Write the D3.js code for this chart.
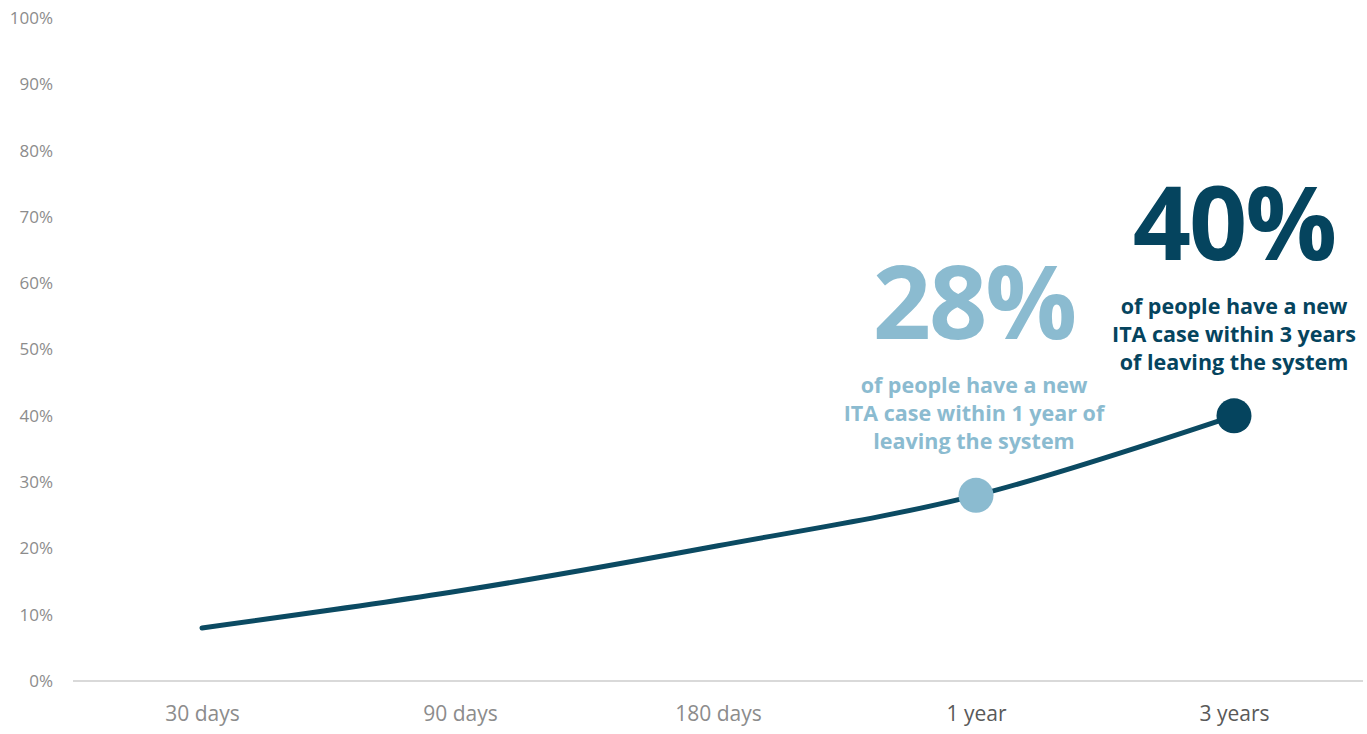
<!DOCTYPE html>
<html>
<head>
<meta charset="utf-8">
<script src="https://cdn.jsdelivr.net/npm/d3@7"></script>
<style>
  html, body { margin: 0; padding: 0; background: #ffffff; }
  svg { display: block; font-family: "Open Sans", "Noto Sans", sans-serif; }
</style>
</head>
<body>
<svg id="chart" width="1367" height="734"></svg>
<script>
// Share of people with a new ITA case, by time since leaving the system
const periods = ["30 days", "90 days", "180 days", "1 year", "3 years"];
const shares = [0.08, 0.136, 0.204, 0.28, 0.40];
const emphasized = ["1 year", "3 years"];
const yTicks = [0, 0.1, 0.2, 0.3, 0.4, 0.5, 0.6, 0.7, 0.8, 0.9, 1.0];

// Call-outs for the highlighted points
const calloutPeriods = ["1 year", "3 years"];
const calloutHeadlines = ["28%", "40%"];
const calloutLines = [
  ["of people have a new", "ITA case within 1 year of", "leaving the system"],
  ["of people have a new", "ITA case within 3 years", "of leaving the system"]
];
const calloutColors = ["#8bbbd0", "#05445e"];

const lineColor = "#0b4a62";
const svg = d3.select("#chart");
const margin = { top: 18, right: 4, bottom: 53, left: 73 };
const width = 1367, height = 734;

const x = d3.scalePoint()
  .domain(periods)
  .range([margin.left, width - margin.right])
  .padding(0.5);

const y = d3.scaleLinear()
  .domain([0, 1])
  .range([height - margin.bottom, margin.top]);

// Y axis: labels only
const yAxis = svg.append("g")
  .attr("transform", `translate(${margin.left - 20},0)`)
  .call(d3.axisLeft(y).tickValues(yTicks).tickFormat(d3.format(".0%")).tickSize(0).tickPadding(0));
yAxis.select(".domain").remove();
yAxis.selectAll("text")
  .attr("fill", "#8c8c8c")
  .attr("font-size", 17)
  .attr("font-family", "'Open Sans', sans-serif");

// X axis baseline and category labels
const xAxis = svg.append("g")
  .attr("transform", `translate(0,${y(0)})`)
  .call(d3.axisBottom(x).tickSize(0).tickPadding(25));
xAxis.select(".domain")
  .attr("stroke", "#d9d9d9")
  .attr("stroke-width", 2)
  .attr("d", `M${margin.left},0H${width - margin.right}`);
xAxis.selectAll("text")
  .attr("font-size", 21)
  .attr("font-family", "'Open Sans', sans-serif")
  .attr("fill", d => emphasized.includes(d) ? "#595959" : "#8c8c8c");

// Trend line
const data = periods.map((p, i) => ({ period: p, value: shares[i] }));
const line = d3.line()
  .x(d => x(d.period))
  .y(d => y(d.value))
  .curve(d3.curveCatmullRom.alpha(0.5));

svg.append("path")
  .datum(data)
  .attr("fill", "none")
  .attr("stroke", lineColor)
  .attr("stroke-width", 5)
  .attr("stroke-linecap", "round")
  .attr("d", line);

// Highlighted points and their call-outs
calloutPeriods.forEach((p, i) => {
  const d = data.find(e => e.period === p);
  const cx = x(d.period), cy = y(d.value);
  svg.append("circle")
    .attr("cx", cx).attr("cy", cy).attr("r", 17.5)
    .attr("fill", calloutColors[i]);

  const g = svg.append("g")
    .attr("fill", calloutColors[i])
    .attr("font-weight", 700)
    .attr("text-anchor", "middle");

  const tx = cx - 2 + i * 2;
  const lastBaseline = cy - 46;
  calloutLines[i].forEach((t, j, arr) => {
    g.append("text")
      .attr("x", tx)
      .attr("y", lastBaseline - (arr.length - 1 - j) * 28)
      .attr("font-size", 21.5)
      .text(t);
  });
  g.append("text")
    .attr("x", tx)
    .attr("y", lastBaseline - 2 * 28 - 54)
    .attr("font-size", 102)
    .attr("letter-spacing", -2)
    .text(calloutHeadlines[i]);
});
</script>
</body>
</html>
